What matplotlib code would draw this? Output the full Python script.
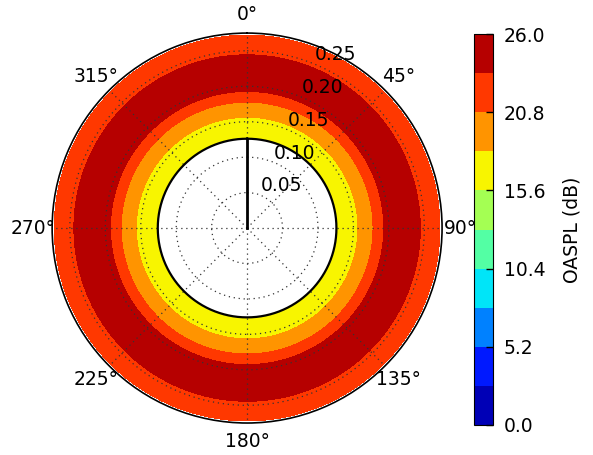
import numpy as np
import matplotlib
matplotlib.use('Agg')
from matplotlib import pyplot as plt

# radial profile of OASPL (same at every angle)
r_data = [0.126, 0.140, 0.157, 0.178, 0.193, 0.210, 0.228, 0.245, 0.260, 0.272]
oaspl = [16.0, 17.1, 18.25, 20.85, 23.45, 25.0, 24.6, 23.35, 22.0, 21.0]
levels = [0.0, 2.6, 5.2, 7.8, 10.4, 13.0, 15.6, 18.2, 20.8, 23.4, 26.0]
cbar_ticks = [0.0, 5.2, 10.4, 15.6, 20.8, 26.0]
r_ticks = [0.05, 0.10, 0.15, 0.20, 0.25]
r_max = 0.275
r_body = 0.126

plt.rcParams['font.size'] = 13.5
fig = plt.figure(figsize=(5.93, 4.55), dpi=100)
ax = fig.add_axes([0.0877, 0.0703, 0.658, 0.857], projection='polar')
ax.set_theta_zero_location('N')
ax.set_theta_direction(-1)

theta = np.linspace(0, 2*np.pi, 361)
T, R = np.meshgrid(theta, np.array(r_data))
Z = np.tile(np.array(oaspl)[:, None], (1, theta.size))
cs = ax.contourf(T, R, Z, levels=levels, cmap=plt.cm.jet, zorder=0)

ax.plot(theta, np.full_like(theta, r_body), color='k', lw=1.6)
ax.plot([0, 0], [0, r_body], color='k', lw=2)

ax.set_ylim(0, r_max)
ax.set_yticks(r_ticks)
ax.set_yticklabels(['%.2f' % v for v in r_ticks])
ax.set_rlabel_position(22.5)
ax.set_xticks(np.radians(np.arange(0, 360, 45)))
ax.set_xticklabels(['%d\u00b0' % d for d in range(0, 360, 45)])
ax.grid(True, color='#333333', linestyle=(0, (1, 3)), linewidth=0.9)
ax.spines['polar'].set_linewidth(1.2)
ax.tick_params(axis='x', pad=3)

cax = fig.add_axes([0.799, 0.066, 0.032, 0.859])
cb = fig.colorbar(cs, cax=cax, ticks=cbar_ticks)
cb.ax.set_yticklabels(['%.1f' % v for v in cbar_ticks])
cb.ax.tick_params(direction='in', length=5, width=1, color='k', pad=8)
cb.set_label('OASPL (dB)', labelpad=12)

fig.savefig('out.png', dpi=100)
